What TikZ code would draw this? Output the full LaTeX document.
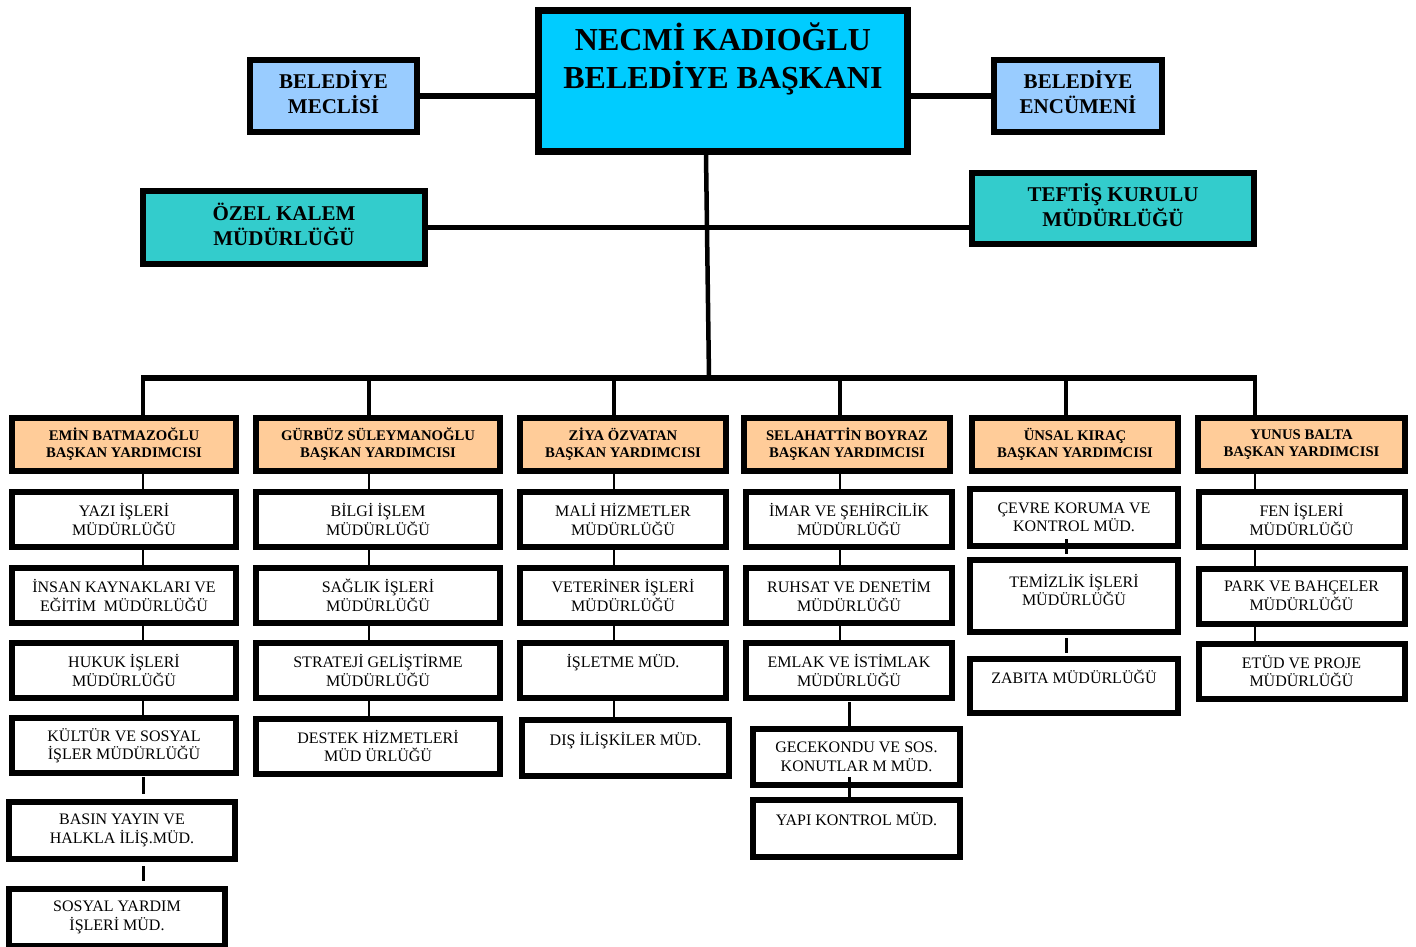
\documentclass[tikz,border=0pt]{standalone}
\usepackage{fontspec}
\setmainfont{Liberation Serif}
\usetikzlibrary{calc}
\definecolor{mayorc}{HTML}{00CCFF}
\definecolor{councilc}{HTML}{99CCFF}
\definecolor{tealc}{HTML}{33CCCC}
\definecolor{vpc}{HTML}{FFCC99}
\begin{document}
\begin{tikzpicture}[x=1pt,y=-1pt,
  box/.style={draw=black, line width=6pt, inner sep=0pt, align=center},
  mayorbox/.style={box, line width=7pt, fill=mayorc, font=\fontsize{32}{38}\selectfont\bfseries},
  topbox/.style={box, font=\fontsize{21}{25}\selectfont\bfseries},
  vpbox/.style={box, fill=vpc, minimum height=53pt, font=\fontsize{14.7}{17}\selectfont\bfseries},
  subbox/.style={box, fill=white, minimum height=55pt, font=\fontsize{16}{18.5}\selectfont},
  mainline/.style={line width=5.5pt},
  dropline/.style={line width=4.5pt},
  thinline/.style={line width=2.2pt},
  midline/.style={line width=3pt}]
\useasboundingbox (0,0) rectangle (1416,947);
\fill[white] (0,0) rectangle (1416,947);

% coordinates for the trunk and bus
\coordinate (mt) at (706,0);
\coordinate (mb) at (709,378);
\coordinate (busL) at (141,378);
\coordinate (busR) at (1257,378);
\coordinate (d1) at (143,378);
\coordinate (d2) at (369,378);
\coordinate (d3) at (614,378);
\coordinate (d4) at (840,378);
\coordinate (d5) at (1066,378);
\coordinate (d6) at (1255,378);
\coordinate (g4) at (849,0);

% top level
\node[mayorbox, minimum width=369, minimum height=141] (mayor) at (723,81) {NECMİ KADIOĞLU\\BELEDİYE BAŞKANI\\[12pt]~};
\node[topbox, fill=councilc, minimum width=167, minimum height=72] (meclis) at (333.5,96) {BELEDİYE\\MECLİSİ\\[-18pt]~};
\node[topbox, fill=councilc, minimum width=168, minimum height=72] (encumen) at (1078,96) {BELEDİYE\\ENCÜMENİ\\[-18pt]~};
\node[topbox, fill=tealc, minimum width=282, minimum height=73] (ozel) at (284,227.5) {ÖZEL KALEM\\MÜDÜRLÜĞÜ\\[-19pt]~};
\node[topbox, fill=tealc, minimum width=282, minimum height=71] (teftis) at (1113,208.5) {TEFTİŞ KURULU\\MÜDÜRLÜĞÜ\\[-19pt]~};

% vice mayors
\node[vpbox, minimum width=224] (vp1) at (124,444.5) {EMİN BATMAZOĞLU\\BAŞKAN YARDIMCISI};
\node[vpbox, minimum width=244] (vp2) at (378,444.5) {GÜRBÜZ SÜLEYMANOĞLU\\BAŞKAN YARDIMCISI};
\node[vpbox, minimum width=206] (vp3) at (623,444.5) {ZİYA ÖZVATAN\\BAŞKAN YARDIMCISI};
\node[vpbox, minimum width=206] (vp4) at (847,444.5) {SELAHATTİN BOYRAZ\\BAŞKAN YARDIMCISI};
\node[vpbox, minimum width=206] (vp5) at (1075,444.5) {ÜNSAL KIRAÇ\\BAŞKAN YARDIMCISI};
\node[vpbox, minimum width=207] (vp6) at (1301.5,444.5) {YUNUS BALTA\\BAŞKAN YARDIMCISI};

% column 1
\node[subbox, minimum width=224] (yazi) at (124,519.5) {YAZI İŞLERİ\\MÜDÜRLÜĞÜ};
\node[subbox, minimum width=224] (insan) at (124,595.5) {İNSAN KAYNAKLARI VE\\EĞİTİM\ \ MÜDÜRLÜĞÜ};
\node[subbox, minimum width=224] (hukuk) at (124,670.5) {HUKUK İŞLERİ\\MÜDÜRLÜĞÜ};
\node[subbox, minimum width=224] (kultur) at (124,745.5) {KÜLTÜR VE SOSYAL\\İŞLER MÜDÜRLÜĞÜ};
\node[subbox, minimum width=226, minimum height=57] (basin) at (122,830.5) {BASIN YAYIN VE\\HALKLA İLİŞ.MÜD.};
\node[subbox, minimum width=216, minimum height=57] (sosyal) at (117,917.5) {SOSYAL YARDIM\\İŞLERİ MÜD.};

% column 2
\node[subbox, minimum width=244] (bilgi) at (378,519.5) {BİLGİ İŞLEM\\MÜDÜRLÜĞÜ};
\node[subbox, minimum width=244] (saglik) at (378,595.5) {SAĞLIK İŞLERİ\\MÜDÜRLÜĞÜ};
\node[subbox, minimum width=244] (strateji) at (378,670.5) {STRATEJİ GELİŞTİRME\\MÜDÜRLÜĞÜ};
\node[subbox, minimum width=244] (destek) at (378,746) {DESTEK HİZMETLERİ\\MÜD ÜRLÜĞÜ};

% column 3
\node[subbox, minimum width=206] (mali) at (623,519.5) {MALİ HİZMETLER\\MÜDÜRLÜĞÜ};
\node[subbox, minimum width=206] (veteriner) at (623,595.5) {VETERİNER İŞLERİ\\MÜDÜRLÜĞÜ};
\node[subbox, minimum width=206] (isletme) at (623,670.5) {İŞLETME MÜD.\\~};
\node[subbox, minimum width=207, minimum height=56] (dis) at (625.5,748) {DIŞ İLİŞKİLER MÜD.\\~};

% column 4
\node[subbox, minimum width=206] (imar) at (849,519.5) {İMAR VE ŞEHİRCİLİK\\MÜDÜRLÜĞÜ};
\node[subbox, minimum width=206] (ruhsat) at (849,595.5) {RUHSAT VE DENETİM\\MÜDÜRLÜĞÜ};
\node[subbox, minimum width=206] (emlak) at (849,670.5) {EMLAK VE İSTİMLAK\\MÜDÜRLÜĞÜ};
\node[subbox, minimum width=207, minimum height=56] (gece) at (856.5,757) {GECEKONDU VE SOS.\\KONUTLAR M MÜD.};
\node[subbox, minimum width=207, minimum height=57] (yapi) at (856.5,828.5) {YAPI KONTROL MÜD.\\~};

% column 5
\node[subbox, minimum width=208, minimum height=57] (cevre) at (1074,517.5) {ÇEVRE KORUMA VE\\KONTROL MÜD.};
\node[subbox, minimum width=208, minimum height=72] (temizlik) at (1074,596) {TEMİZLİK İŞLERİ\\MÜDÜRLÜĞÜ\\[-6pt]~};
\node[subbox, minimum width=208, minimum height=54] (zabita) at (1074,686) {ZABITA MÜDÜRLÜĞÜ\\~};

% column 6
\node[subbox, minimum width=206] (fen) at (1301.5,519.5) {FEN İŞLERİ\\MÜDÜRLÜĞÜ};
\node[subbox, minimum width=206] (park) at (1301.5,596) {PARK VE BAHÇELER\\MÜDÜRLÜĞÜ};
\node[subbox, minimum width=206] (etud) at (1301.5,671) {ETÜD VE PROJE\\MÜDÜRLÜĞÜ};

% main connectors
\draw[mainline] (meclis.east) -- (meclis.east -| mayor.west);
\draw[mainline] (encumen.west) -- (encumen.west -| mayor.east);
\draw[dropline] (mayor.south -| mt) -- (mb);
\draw[mainline] (ozel.east) -- (ozel.east -| teftis.west);
\draw[mainline] (busL) -- (busR);
\draw[dropline] (d1) -- (d1 |- vp1.north);
\draw[dropline] (d2) -- (d2 |- vp2.north);
\draw[dropline] (d3) -- (d3 |- vp3.north);
\draw[dropline] (d4) -- (d4 |- vp4.north);
\draw[dropline] (d5) -- (d5 |- vp5.north);
\draw[dropline] (d6) -- (d6 |- vp6.north);

% column 1 connectors
\draw[thinline] (vp1.south -| d1) -- (yazi.north -| d1);
\draw[thinline] (yazi.south -| d1) -- (insan.north -| d1);
\draw[thinline] (insan.south -| d1) -- (hukuk.north -| d1);
\draw[thinline] (hukuk.south -| d1) -- (kultur.north -| d1);
\draw[midline] ([yshift=-1pt]kultur.south -| d1) -- ([yshift=5pt]basin.north -| d1);
\draw[midline] ([yshift=-4pt]basin.south -| d1) -- ([yshift=5pt]sosyal.north -| d1);

% column 2 connectors
\draw[thinline] (vp2.south -| d2) -- (bilgi.north -| d2);
\draw[thinline] (bilgi.south -| d2) -- (saglik.north -| d2);
\draw[thinline] (saglik.south -| d2) -- (strateji.north -| d2);
\draw[thinline] (strateji.south -| d2) -- (destek.north -| d2);

% column 3 connectors
\draw[thinline] (vp3.south -| d3) -- (mali.north -| d3);
\draw[thinline] (mali.south -| d3) -- (veteriner.north -| d3);
\draw[thinline] (veteriner.south -| d3) -- (isletme.north -| d3);
\draw[thinline] (isletme.south -| d3) -- (dis.north -| d3);

% column 4 connectors
\draw[thinline] (vp4.south -| d4) -- (imar.north -| d4);
\draw[thinline] (imar.south -| d4) -- (ruhsat.north -| d4);
\draw[thinline] (ruhsat.south -| d4) -- (emlak.north -| d4);
\draw[midline] ([yshift=-1pt]emlak.south -| g4) -- (gece.north -| g4);
\draw[midline] ([yshift=11pt]gece.south -| g4) -- (yapi.north -| g4);

% column 5 connectors
\draw[midline] ([yshift=10pt]cevre.south -| d5) -- ([yshift=3pt]temizlik.north -| d5);
\draw[midline] ([yshift=-3pt]temizlik.south -| d5) -- ([yshift=3pt]zabita.north -| d5);

% column 6 connectors
\draw[thinline] (vp6.south -| d6) -- (fen.north -| d6);
\draw[thinline] (fen.south -| d6) -- (park.north -| d6);
\draw[thinline] (park.south -| d6) -- (etud.north -| d6);
\end{tikzpicture}
\end{document}
